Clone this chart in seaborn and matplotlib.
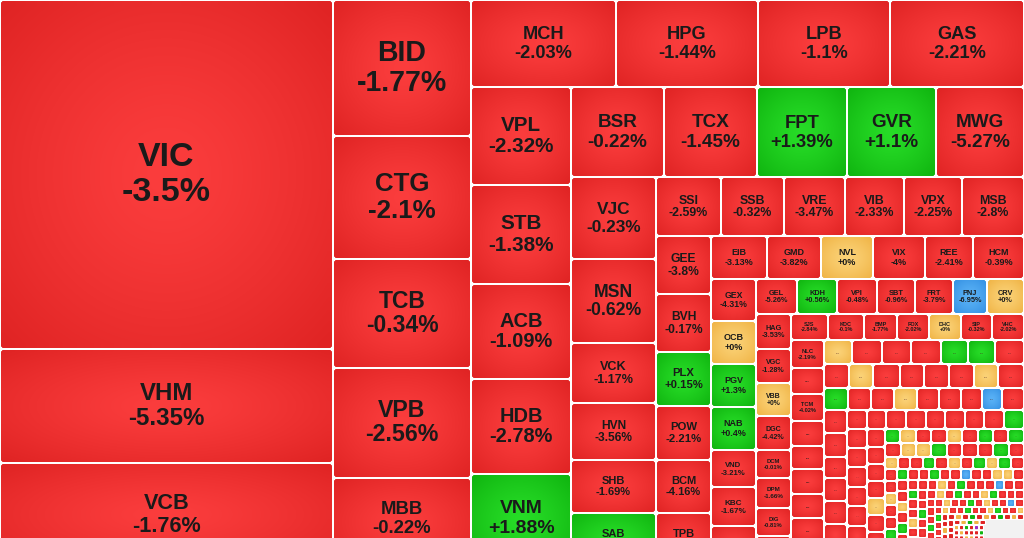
import numpy as np
import matplotlib
matplotlib.use("Agg")
import matplotlib.pyplot as plt
from matplotlib.patches import FancyBboxPatch, Rectangle
import seaborn as sns

# ---------------- data ----------------
BOARD_W, BOARD_H = 1024, 566      # full heat-map board; the picture shows its top 538 px
VIEW_H = 538

# labelled tiles in board order (weight = market-cap share, tile area)
tickers = ["VIC", "VHM", "VCB",
           "BID", "CTG", "TCB", "VPB", "MBB",
           "MCH", "HPG", "LPB", "GAS",
           "VPL", "STB", "ACB", "HDB", "VNM",
           "BSR", "TCX", "FPT", "GVR", "MWG",
           "VJC", "MSN", "VCK", "HVN", "SHB", "SAB",
           "SSI", "SSB", "VRE", "VIB", "VPX", "MSB",
           "GEE", "BVH", "PLX", "POW", "BCM", "TPB",
           "EIB", "GMD", "NVL", "VIX", "REE", "HCM",
           "GEX", "OCB", "PGV", "NAB", "VND", "KBC", "",
           "GEL", "KDH", "VPI", "SBT", "FRT", "PNJ", "CRV",
           "HAG", "VGC", "VBB", "DGC", "DCM", "DPM", "DIG", "",
           "SJS", "KDC", "BMP", "FOX", "DHC", "SIP", "VHC",
           "NLC", "...", "TCM", "...", "...", "...", "...", "...", "..."]
# % change; "g"/"r" = only the sign is visible (value cut off by the frame)
changes = [-3.5, -5.35, -1.76,
           -1.77, -2.1, -0.34, -2.56, -0.22,
           -2.03, -1.44, -1.1, -2.21,
           -2.32, -1.38, -1.09, -2.78, 1.88,
           -0.22, -1.45, 1.39, 1.1, -5.27,
           -0.23, -0.62, -1.17, -3.56, -1.69, "g",
           -2.59, -0.32, -3.47, -2.33, -2.25, -2.8,
           -3.8, -0.17, 0.15, -2.21, -4.16, "r",
           -3.13, -3.82, 0.0, -4.0, -2.41, -0.39,
           -4.31, 0.0, 1.3, 0.4, -3.21, -1.67, "r",
           -5.26, 0.56, -0.48, -0.96, -3.79, -6.95, 0.0,
           -3.53, -1.28, 0.0, -4.42, -0.01, -1.66, -0.81, "r",
           -2.84, -0.1, -1.77, -2.02, 0.0, -0.32, -2.02,
           -2.19, "r", -4.02, "r", "r", "r", "r", "r", "r"]
caps = [116217, 37962, 34299,
        18768, 16974, 15042, 15180, 12144,
        12615, 12354, 11484, 11658,
        9800, 9900, 9500, 9500, 9200,
        8370, 8370, 8100, 8010, 7920,
        6970, 7140, 5100, 4845, 4505, 4505,
        3835, 3717, 3599, 3481, 3422, 3658,
        3190, 3190, 2970, 2970, 2915, 2915,
        2408, 2322, 2236, 2236, 2064, 2193,
        1890, 1935, 1935, 1935, 1665, 1755, 1800,
        1435, 1400, 1400, 1330, 1330, 1190, 1295,
        1225, 1190, 1155, 1190, 980, 1050, 980, 1050,
        962, 936, 858, 832, 832, 806, 832,
        924, 858, 891, 825, 759, 825, 792, 792, 792]
strip_dirs = "vvhvhvhvhvhvhv"
strip_counts = [3, 5, 4, 5, 5, 6, 6, 6, 6, 7, 7, 8, 7, 9]

# small unlabelled tiles ("..."), strip by strip; codes r/g/o/b/p = down/up/flat/floor/ceiling, x = empty
dot_dirs = "hhhv" + "hvv" + "hhh" + "vv" + "hvhvhvhvhvhv" + "h" + "vvvvvv"
dot_caps = [[672, 720, 696, 720, 648, 648, 696],
            [600, 576, 648, 576, 600, 600, 576, 624],
            [528, 506, 506, 506, 484, 484, 462, 440, 484],
            [529, 552, 483, 529, 529, 506, 460],
            [380, 361, 380, 380, 361, 380, 361, 380, 380],
            [380, 380, 400, 380, 400, 400, 400],
            [324, 306, 306, 306, 306, 306, 306, 306],
            [210, 224, 210, 224, 210, 224, 210, 210, 224],
            [224, 210, 210, 224, 210, 224, 210, 224, 210],
            [156, 144, 156, 144, 156, 156, 144, 156, 144, 156, 156],
            [144, 144, 144, 144, 144, 144, 156, 144],
            [121, 121, 121, 110, 121, 121, 121, 110, 121],
            [121, 110, 121, 110, 121, 110, 121, 110, 121, 110, 121],
            [100, 90, 100, 90, 100, 90, 100, 90, 100],
            [100, 90, 100, 90, 100, 100, 90, 100, 90, 100, 100],
            [90, 81, 90, 81, 90, 81, 90, 81],
            [81, 81, 81, 81, 81, 72, 81, 81, 81, 72, 81],
            [64, 72, 64, 64, 72, 64, 64, 72],
            [64, 64, 64, 64, 64, 64, 64, 64, 64, 64, 72],
            [49, 56, 49, 49, 56, 49, 49, 56],
            [49, 56, 49, 56, 49, 56, 49, 56, 49, 56, 49],
            [42, 36, 42, 36, 42, 36, 42, 36],
            [42, 42, 42, 42, 42, 42, 42, 42, 42, 36, 42],
            [42, 36, 42, 36, 42, 36, 42],
            [32, 32, 32, 32, 32, 190],
            [26, 26, 25, 26, 25, 26, 25, 26],
            [26, 26, 25, 26, 25, 26, 25, 26],
            [26, 26, 25, 26, 25, 26, 25, 26],
            [26, 26, 25, 26, 25, 26, 25, 26],
            [26, 26, 25, 26, 25, 26, 25, 26],
            [26, 26, 25, 26, 25, 26, 25, 26]]
dot_codes = ["orrrggr", "rorrrror", "grrorrrbr", "rrrrrrr", "rrrrrrrrg", "rrrrrrr",
             "rrrrorrr", "gorrorgrg", "roogrrrgr", "orrgrorgogr", "rrorrgrr",
             "grrorgrrr", "rrgrrbrroor", "rgrrorrgr", "rrorgrrrbrr", "rrgrrorr",
             "rorgrrogrrr", "rrrgrrrr", "rorrgrorrbr", "rgrrrorr", "orrgrrogrro",
             "rrorrgrr", "rorgrorgror", "rrrorgr", "rogorx",
             "orrgorrr", "rorrgror", "grorrorr", "rrogrorg", "prrorrgr", "rgrrorro"]
others_cap = 1640   # tiny listings too small to be drawn

# ---------------- style ----------------
sns.set_theme(style="white")
plt.rcParams["font.family"] = ["Liberation Sans", "DejaVu Sans"]

PAL = {"r": ("#fb3d3d", "#e02424"),
       "g": ("#27dc27", "#10b510"),
       "o": ("#fbd277", "#f0b446"),
       "b": ("#5ab2f6", "#3591e3"),
       "p": ("#c456e2", "#9f2fc6")}
CMAPS = {k: sns.blend_palette([c0, c1], as_cmap=True) for k, (c0, c1) in PAL.items()}
EMPTY = "#f2f2f2"
TXT = "#1a1a1a"

CW = {"A": .722, "B": .722, "C": .722, "D": .722, "E": .667, "F": .611, "G": .778,
      "H": .722, "I": .278, "J": .556, "K": .722, "L": .611, "M": .833, "N": .722,
      "O": .778, "P": .667, "Q": .778, "R": .722, "S": .667, "T": .611, "U": .722,
      "V": .667, "W": .944, "X": .667, "Y": .667, "Z": .611, ".": .278, "-": .333,
      "+": .584, "%": .889}


def em_width(s):
    return sum(CW.get(c, .556) for c in s)


def code_of(ch):
    if isinstance(ch, str):
        return ch
    if ch >= 6.9:
        return "p"
    if ch <= -6.9:
        return "b"
    if ch > 0:
        return "g"
    if ch == 0:
        return "o"
    return "r"


# ---------------- layout (strips from weights) ----------------
strips = []
i = 0
for d, n in zip(strip_dirs, strip_counts):
    strips.append((d, [("main", k) for k in range(i, i + n)]))
    i += n
for s_i, (d, vals) in enumerate(zip(dot_dirs, dot_caps)):
    strips.append((d, [("dot", (s_i, j)) for j in range(len(vals))]))


def weight(key):
    kind, k = key
    return caps[k] if kind == "main" else dot_caps[k[0]][k[1]]


total = sum(caps) + sum(sum(v) for v in dot_caps) + others_cap
x0, y0, x1, y1 = 0.0, 0.0, float(BOARD_W), float(BOARD_H)
remaining = float(total)
tiles = []
for d, keys in strips:
    vals = [weight(k) for k in keys]
    s = float(sum(vals))
    if d == "v":
        w = (x1 - x0) * s / remaining
        y = y0
        for k, v in zip(keys, vals):
            h = (y1 - y0) * v / s
            tiles.append((k, x0, y, w, h))
            y += h
        x0 += w
    else:
        h = (y1 - y0) * s / remaining
        x = x0
        for k, v in zip(keys, vals):
            w = (x1 - x0) * v / s
            tiles.append((k, x, y0, w, h))
            x += w
        y0 += h
    remaining -= s

# ---------------- draw ----------------
fig = plt.figure(figsize=(10.24, 5.38), dpi=100, facecolor="white")
ax = fig.add_axes([0, 0, 1, 1])
ax.set_facecolor("white")

u = np.linspace(-1, 1, 40)
GX, GY = np.meshgrid(u, u)
GRAD = np.clip(np.sqrt(GX ** 2 + GY ** 2) / np.sqrt(2), 0, 1) ** 1.3


def draw_tile(x, y, w, h, code):
    if code == "x":
        ax.add_patch(Rectangle((x, y), w, h, fc=EMPTY, ec="none", zorder=1))
        return
    bx, by, bw, bh = x + 1, y + 1, w - 2, h - 2
    if bw <= 0.5 or bh <= 0.5:
        return
    r = min(3.0, 0.22 * min(bw, bh))
    patch = FancyBboxPatch((bx, by), bw, bh, boxstyle=f"round,pad=0,rounding_size={r}",
                           fc=PAL[code][1], ec="none", lw=0, zorder=1)
    ax.add_patch(patch)
    if min(bw, bh) >= 5:
        im = ax.imshow(GRAD, cmap=CMAPS[code], vmin=0, vmax=1, aspect="auto",
                       extent=(bx, bx + bw, by + bh, by), interpolation="bilinear", zorder=2)
        im.set_clip_path(patch)


for (kind, k), x, y, w, h in tiles:
    if y >= VIEW_H:
        continue
    cx, cy = x + w / 2, y + h / 2
    if kind == "main":
        t, ch = tickers[k], changes[k]
        draw_tile(x, y, w, h, code_of(ch))
        if t == "...":
            E = min(0.22 * h, 6)
            if cy + E / 2 < VIEW_H:
                ax.text(cx, cy, "...", ha="center", va="center", fontsize=E * 0.72,
                        color="#4a2020", fontweight="bold", zorder=3)
        elif t:
            p = "" if isinstance(ch, str) else f"{ch:+g}%"
            E = min(34, 0.21 * h, 0.7 * w / max(em_width(t), em_width(p)))
            yc = cy
            # keep the label inside the frame when the visible part of the tile can hold it
            bottom = yc + 0.43 * E + 0.36 * E
            if bottom > VIEW_H - 5 and (VIEW_H - y) >= 2.6 * E:
                yc -= bottom - (VIEW_H - 5)
            ax.text(cx, yc - 0.6 * E + 0.358 * E, t, ha="center", va="baseline",
                    fontsize=E * 0.72, fontweight="bold", color=TXT, zorder=3)
            if p:
                ax.text(cx, yc + 0.43 * E + 0.358 * E, p, ha="center", va="baseline",
                        fontsize=E * 0.72, fontweight="bold", color=TXT, zorder=3)
    else:
        s_i, j = k
        code = dot_codes[s_i][j]
        draw_tile(x, y, w, h, code)
        if code != "x" and min(w, h) >= 11 and cy + 3 < VIEW_H:
            ax.text(cx, cy, "...", ha="center", va="center",
                    fontsize=min(0.22 * h, 5) * 0.72, color="#4a2020", zorder=3)

# leftover corner of tiny listings
ax.add_patch(Rectangle((x0, y0), x1 - x0, y1 - y0, fc=EMPTY, ec="none", zorder=1))

ax.set_xlim(0, BOARD_W)
ax.set_ylim(VIEW_H, 0)
ax.set_aspect("auto")
ax.axis("off")
fig.savefig("out.png", dpi=100, facecolor="white")
